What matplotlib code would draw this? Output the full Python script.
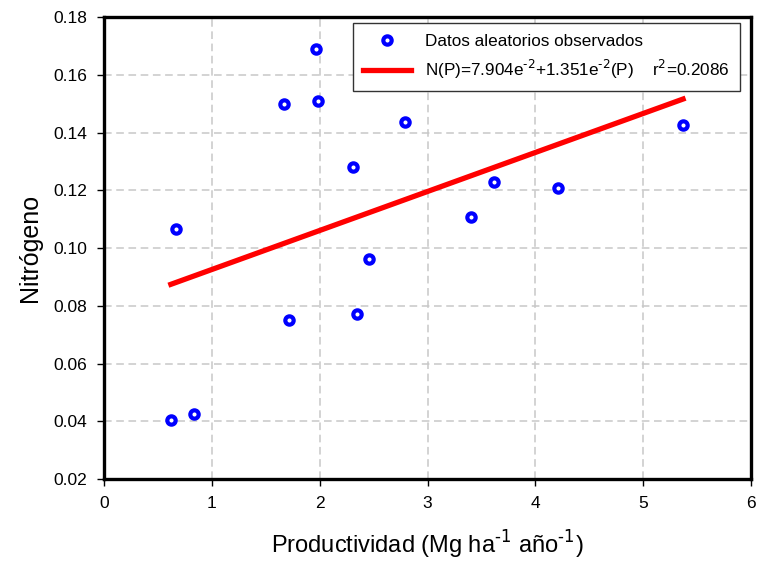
import numpy as np
import matplotlib
matplotlib.use("Agg")
import matplotlib.pyplot as plt

plt.rcParams['font.family'] = ['Liberation Sans', 'DejaVu Sans']

# observed productivity vs nitrogen
prod = [0.62, 0.83, 0.67, 1.67, 1.72, 1.97, 1.98, 2.31, 2.35, 2.46, 2.79, 3.40, 3.62, 4.21, 5.37]
nitro = [0.0404, 0.0425, 0.1066, 0.1499, 0.0751, 0.1689, 0.1509, 0.1280, 0.0771, 0.0962,
         0.1436, 0.1107, 0.1229, 0.1208, 0.1426]

# linear fit N(P) = a + b*P
a = 7.904e-2
b = 1.351e-2
r2 = 0.2086
fit_x = np.array([min(prod), max(prod)])
fit_y = a + b * fit_x

fig = plt.figure(figsize=(7.58, 5.63), dpi=100)
ax = fig.add_axes([104/758, 1 - 479/563, (751-104)/758, (479-17)/563])

ax.plot(prod, nitro, 'o', ms=6, mfc='white', mec='#0000ff', mew=3, zorder=4,
        label='Datos aleatorios observados')
ax.plot(fit_x, fit_y, '-', color='#ff0000', lw=3.8, zorder=3,
        label=r'N(P)=7.904e$^{\text{-2}}$+1.351e$^{\text{-2}}$(P)    r$^{\text{2}}$=%.4f' % r2)

ax.set_xlim(0, 6)
ax.set_ylim(0.02, 0.18)
ax.set_xticks(np.arange(0, 7, 1))
ax.set_yticks(np.arange(0.02, 0.181, 0.02))
ax.set_yticklabels(['%.2f' % v for v in np.arange(0.02, 0.181, 0.02)])
ax.grid(True, color='#c8c8c8', ls=(0, (5, 3)), lw=1.1)
ax.set_axisbelow(True)
for s in ax.spines.values():
    s.set_linewidth(2.4)
ax.tick_params(direction='out', length=5, width=1, labelsize=12.5, pad=7)

ax.set_xlabel(r'Productividad (Mg ha$^{\text{-1}}$ año$^{\text{-1}}$)', fontsize=17, labelpad=13)
ax.set_ylabel('Nitrógeno', fontsize=18, labelpad=8)

leg = ax.legend(loc='upper right', bbox_to_anchor=(0.983, 0.986), borderaxespad=0,
                fontsize=12.3, fancybox=False, framealpha=1, edgecolor='#333333',
                numpoints=1, handlelength=2.8, handletextpad=0.8, borderpad=0.6,
                labelspacing=0.55)
leg.get_frame().set_linewidth(1.0)

fig.savefig('out.png', dpi=100)
